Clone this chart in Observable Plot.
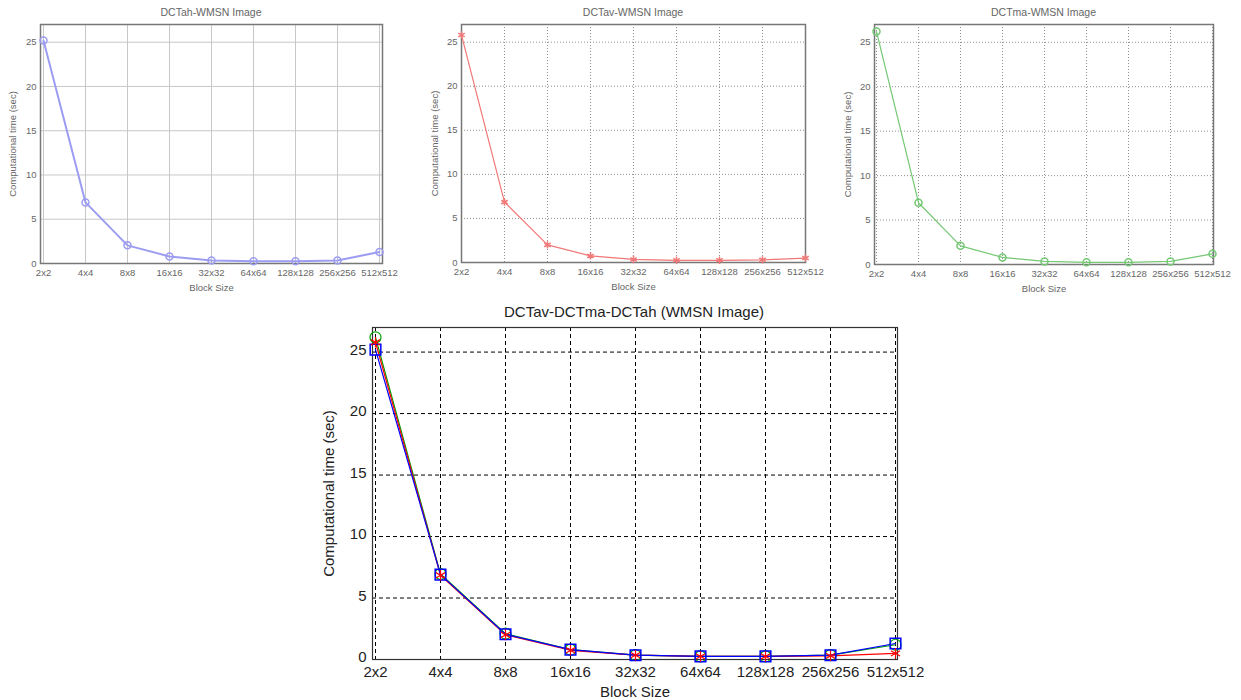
<!DOCTYPE html>
<html><head><meta charset="utf-8">
<script src="https://cdn.jsdelivr.net/npm/d3@7"></script>
<script src="https://cdn.jsdelivr.net/npm/@observablehq/plot@0.6"></script>
<style>
body{margin:0;background:#fff;}
#root{position:relative;width:1241px;height:700px;overflow:hidden;font-family:"Liberation Sans",Arial,sans-serif;}
.panel{position:absolute;}
.title{position:absolute;white-space:nowrap;transform:translateX(-50%);line-height:1;}
</style></head><body><div id="root"></div>
<script>
// ---- data ----
const blockSizes = ["2x2","4x4","8x8","16x16","32x32","64x64","128x128","256x256","512x512"];
const dctAh = [25.2, 6.9, 2.05, 0.8, 0.35, 0.25, 0.25, 0.35, 1.3];
const dctAv = [25.8, 6.85, 2.0, 0.75, 0.35, 0.25, 0.25, 0.3, 0.5];
const dctMa = [26.2, 6.95, 2.1, 0.8, 0.35, 0.25, 0.25, 0.35, 1.2];
const yTicks = [0, 5, 10, 15, 20, 25];
const yMax = 27;
const smallTitles = ["DCTah-WMSN Image", "DCTav-WMSN Image", "DCTma-WMSN Image"];
const bigTitle = "DCTav-DCTma-DCTah (WMSN Image)";
const xLabel = "Block Size";
const yLabel = "Computational time (sec)";

const rows = arr => blockSizes.map((b, i) => ({block: b, value: arr[i]}));
const root = document.getElementById("root");

function place(node, left, top) {
  node.classList.add("panel");
  node.style.left = left + "px";
  node.style.top = top + "px";
  root.appendChild(node);
}
function addTitle(text, cx, cy, size, color) {
  const d = document.createElement("div");
  d.className = "title";
  d.textContent = text;
  d.style.left = cx + "px";
  d.style.top = (cy - size / 2) + "px";
  d.style.fontSize = size + "px";
  d.style.color = color;
  root.appendChild(d);
}

// ---- small panels ----
const smalls = [
  {left: 0, width: 410, ml: 40, mr: 28, mt: 24, mb: 35, yOff: 31, data: dctAh, color: "#9c9cf2", symbol: "circle", r: 3.5, grid: "solid", sw: 2},
  {left: 420, width: 410, ml: 41, mr: 25, mt: 24, mb: 36, yOff: 30, data: dctAv, color: "#f07878", symbol: "asterisk", r: 3.5, grid: "dot", sw: 1.2},
  {left: 830, width: 411, ml: 44, mr: 28, mt: 24, mb: 34, yOff: 30, data: dctMa, color: "#74c874", symbol: "circle", r: 3.5, grid: "dot", sw: 1.2}
];
smalls.forEach((p, k) => {
  const height = 298;
  const gridOpts = p.grid === "solid"
    ? {stroke: "#c8c8c8", strokeOpacity: 1}
    : {stroke: "#909090", strokeOpacity: 1, strokeDasharray: "1,2"};
  const chart = Plot.plot({
    width: p.width, height,
    marginLeft: p.ml, marginRight: p.mr, marginTop: p.mt, marginBottom: p.mb,
    style: {fontFamily: "Liberation Sans, Arial, sans-serif", fontSize: "9.5px", color: "#666", background: "transparent"},
    x: {type: "point", domain: blockSizes, padding: 0},
    y: {domain: [0, yMax]},
    marks: [
      Plot.gridY(yTicks, gridOpts),
      Plot.gridX(blockSizes, gridOpts),
      Plot.frame({stroke: "#777", strokeWidth: 1.5}),
      Plot.axisX({tickSize: 0, tickPadding: 6, label: xLabel, labelAnchor: "center", labelArrow: "none", labelOffset: 27}),
      Plot.axisY(yTicks, {tickSize: 0, tickPadding: 4, label: yLabel, labelAnchor: "center", labelArrow: "none", labelOffset: p.yOff}),
      Plot.line(rows(p.data), {x: "block", y: "value", stroke: p.color, strokeWidth: p.sw}),
      Plot.dot(rows(p.data), {x: "block", y: "value", stroke: p.color, symbol: p.symbol, r: p.r, strokeWidth: 1.5})
    ]
  });
  place(chart, p.left, 0);
  addTitle(smallTitles[k], p.left + (p.ml + p.width - p.mr) / 2, 12, 10.5, "#666");
});

// ---- big panel ----
const big = Plot.plot({
  width: 660, height: 400,
  marginLeft: 72, marginRight: 63, marginTop: 27, marginBottom: 41,
  style: {fontFamily: "Liberation Sans, Arial, sans-serif", fontSize: "15px", color: "#222", background: "transparent"},
  x: {type: "point", domain: blockSizes, padding: 0},
  y: {domain: [0, yMax]},
  marks: [
    Plot.gridY(yTicks, {stroke: "#000", strokeOpacity: 1, strokeDasharray: "4,3"}),
    Plot.gridX(blockSizes, {stroke: "#000", strokeOpacity: 1, strokeDasharray: "4,3"}),
    Plot.frame({stroke: "#333", strokeWidth: 1.2}),
    Plot.axisX({tickSize: 0, tickPadding: 7, label: xLabel, labelAnchor: "center", labelArrow: "none", labelOffset: 37}),
    Plot.axisY(yTicks, {tickSize: 0, tickPadding: 6, dy: -2, label: yLabel, labelAnchor: "center", labelArrow: "none", labelOffset: 49}),
    Plot.line(rows(dctMa), {x: "block", y: "value", stroke: "#00a000", strokeWidth: 1.2}),
    Plot.line(rows(dctAv), {x: "block", y: "value", stroke: "#ff0000", strokeWidth: 1.2}),
    Plot.line(rows(dctAh), {x: "block", y: "value", stroke: "#0000ff", strokeWidth: 1.2}),
    Plot.dot(rows(dctMa), {x: "block", y: "value", stroke: "#00a000", symbol: "circle", r: 5.5, strokeWidth: 1.2}),
    Plot.dot(rows(dctAh), {x: "block", y: "value", stroke: "#0000ff", symbol: "square", r: 6, strokeWidth: 1.5}),
    Plot.dot(rows(dctAv), {x: "block", y: "value", stroke: "#ff0000", symbol: "asterisk", r: 5, strokeWidth: 1.2})
  ]
});
place(big, 300, 300);
addTitle(bigTitle, 634, 311, 15, "#222");
</script></body></html>
